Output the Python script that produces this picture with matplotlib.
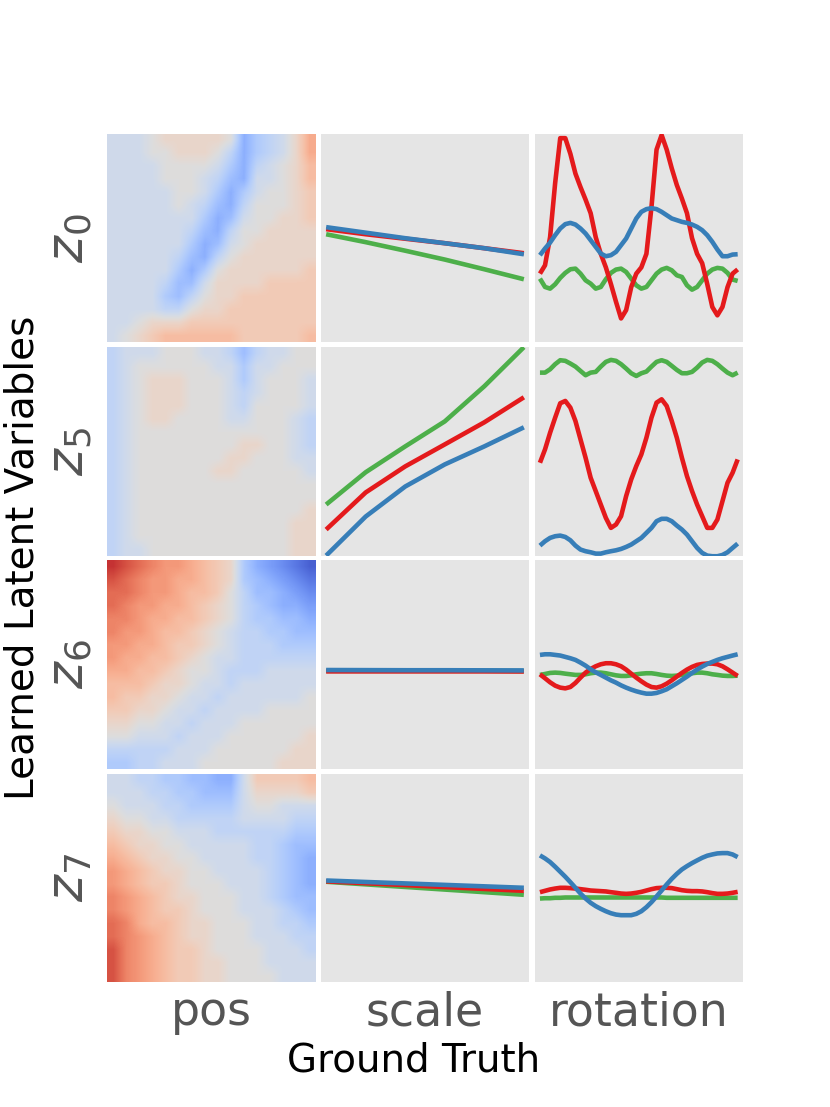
#!/usr/bin/python
#
# Latent traversal figure: each learned latent (row) against the ground truth
# factors pos / scale / rotation (columns) of the sprites dataset.

import numpy as np
import matplotlib
matplotlib.use('Agg')
import matplotlib.pyplot as plt

latent_names = ['$z_0$', '$z_5$', '$z_6$', '$z_7$']
factor_names = ['pos', 'scale', 'rotation']
shape_names  = ['square', 'ellipse', 'heart']
shape_colors = {'square': '#4daf4a', 'ellipse': '#e41a1c', 'heart': '#377eb8'}

scale_values    = [0.5, 0.6, 0.7, 0.8, 0.9, 1.0]
rotation_values = np.linspace(0.0, 2.0*np.pi, 40) # 40 orientations

# Mean latent over (pos y, pos x), 16x16 cells, -10 (blue) .. 10 (red)
pos_z0 = [
    [-1,-1,-1, 0, 1, 1, 1, 1, 1, 0,-5,-3,-2,-1, 1, 4],
    [-1,-1,-1, 0, 0, 1, 1, 1, 0,-2,-5,-3,-2,-1, 1, 4],
    [-1,-1,-1,-1, 0, 0, 0, 0,-1,-3,-5,-2,-1, 0, 1, 3],
    [-1,-1,-1,-1, 0, 0, 0,-1,-2,-4,-5,-1,-1, 0, 1, 3],
    [-1,-1,-1,-1,-1, 0, 0,-1,-3,-5,-3,-1, 0, 0, 1, 2],
    [-1,-1,-1,-1,-1, 0,-1,-2,-4,-5,-2, 0, 0, 0, 1, 2],
    [-1,-1,-1,-1,-1,-1,-1,-3,-5,-4,-1, 0, 0, 1, 1, 2],
    [-1,-1,-1,-1,-1,-1,-2,-4,-5,-2, 0, 0, 1, 1, 1, 1],
    [-1,-1,-1,-1,-1,-1,-3,-5,-4,-1, 0, 1, 1, 1, 1, 1],
    [-1,-1,-1,-1,-1,-2,-4,-5,-2, 0, 1, 1, 1, 1, 1, 1],
    [-1,-1,-1,-1,-1,-3,-5,-3, 0, 1, 1, 1, 1, 1, 1, 2],
    [-1,-1,-1,-1,-2,-4,-4,-1, 1, 1, 1, 1, 2, 2, 2, 2],
    [-1,-1,-1,-1,-3,-4,-2, 0, 1, 1, 2, 2, 2, 2, 2, 2],
    [-1,-1,-1,-1,-2,-2, 0, 1, 1, 2, 2, 2, 2, 2, 2, 2],
    [-1,-1, 0, 1, 1, 1, 2, 2, 2, 2, 2, 2, 2, 2, 2, 2],
    [-1, 0, 1, 2, 3, 3, 3, 3, 3, 3, 2, 2, 2, 2, 2, 3],
]
pos_z5 = [
    [-2,-1,-1,-1, 0, 0, 0,-1,-1,-2,-4,-2,-1,-1, 0, 0],
    [-2,-1, 0, 0, 0, 0, 0, 0,-1,-1,-3,-1,-1, 0, 0, 0],
    [-2,-1, 0, 1, 1, 1, 0, 0, 0,-1,-3,-1, 0, 0, 0,-1],
    [-2,-1, 0, 1, 1, 1, 0, 0, 0,-1,-2,-1, 0, 0, 0,-1],
    [-2,-1, 0, 1, 1, 1, 0, 0, 0,-1,-2, 0, 0, 0, 0,-1],
    [-2,-1, 0, 1, 1, 0, 0, 0, 0,-1,-1, 0, 0, 0,-1,-2],
    [-2,-1, 0, 0, 0, 0, 0, 0, 0, 0, 0, 0, 0, 0,-1,-2],
    [-2,-1, 0, 0, 0, 0, 0, 0, 0, 0, 1, 1, 0, 0,-1,-2],
    [-2,-1, 0, 0, 0, 0, 0, 0, 0, 1, 1, 0, 0, 0,-1,-1],
    [-2,-1, 0, 0, 0, 0, 0, 0, 1, 1, 0, 0, 0, 0, 0,-1],
    [-2,-1, 0, 0, 0, 0, 0, 0, 0, 0, 0, 0, 0, 0, 0, 0],
    [-2,-1, 0, 0, 0, 0, 0, 0, 0, 0, 0, 0, 0, 0, 0, 0],
    [-2,-1, 0, 0, 0, 0, 0, 0, 0, 0, 0, 0, 0, 0, 0, 1],
    [-2,-1, 0, 0, 0, 0, 0, 0, 0, 0, 0, 0, 0, 0, 1, 1],
    [-2,-1, 0, 0, 0, 0, 0, 0, 0, 0, 0, 0, 0, 0, 1, 1],
    [-2,-1,-1, 0, 0, 0, 0, 0, 0, 0, 0, 0, 0, 0, 1, 1],
]
pos_z6 = [
    [ 9, 8, 7, 6, 5, 5, 4, 3, 2, 1,-3,-5,-6,-7,-8,-9],
    [ 8, 7, 6, 5, 5, 4, 4, 3, 2, 1,-3,-4,-5,-6,-7,-8],
    [ 7, 7, 6, 5, 5, 4, 3, 3, 2, 0,-2,-4,-4,-5,-6,-7],
    [ 7, 6, 5, 5, 4, 4, 3, 2, 1, 0,-2,-3,-4,-5,-5,-6],
    [ 6, 6, 5, 4, 4, 3, 3, 2, 1, 0,-2,-3,-3,-4,-4,-5],
    [ 6, 5, 5, 4, 3, 3, 2, 1, 0,-1,-2,-2,-3,-3,-4,-4],
    [ 5, 5, 4, 4, 3, 2, 2, 1, 0,-1,-2,-2,-2,-3,-3,-3],
    [ 5, 4, 4, 3, 3, 2, 1, 0,-1,-1,-2,-2,-2,-2,-2,-2],
    [ 4, 4, 3, 3, 2, 1, 0, 0,-1,-2,-2,-2,-1,-1,-1,-1],
    [ 3, 3, 3, 2, 1, 1, 0,-1,-1,-2,-1,-1,-1,-1,-1,-1],
    [ 3, 2, 2, 1, 1, 0,-1,-1,-2,-1,-1,-1,-1,-1,-1, 0],
    [ 2, 2, 1, 1, 0,-1,-1,-2,-1,-1,-1,-1, 0, 0, 0, 0],
    [ 1, 1, 0, 0,-1,-1,-2,-1,-1,-1, 0, 0, 0, 0, 0, 0],
    [ 0, 0,-1,-1,-1,-2,-1,-1,-1, 0, 0, 0, 0, 0, 0, 1],
    [-2,-2,-2,-2,-2,-1,-1,-1, 0, 0, 0, 0, 0, 0, 1, 1],
    [-3,-3,-2,-2,-1,-1,-1, 0, 0, 0, 0, 0, 0, 1, 1, 1],
]
pos_z7 = [
    [-1,-1,-2,-2,-3,-3,-4,-4,-5,-5,-1, 2, 2, 2, 2, 3],
    [-1,-1,-1,-2,-2,-3,-3,-4,-4,-4,-1, 1, 1, 1, 1, 2],
    [ 0,-1,-1,-1,-2,-2,-3,-3,-3,-3,-1, 0, 0,-1,-1,-1],
    [ 1, 0, 0,-1,-1,-2,-2,-2,-2,-2,-1,-1,-1,-1,-2,-2],
    [ 2, 1, 1, 0, 0,-1,-1,-1,-2,-2,-2,-2,-2,-2,-3,-3],
    [ 3, 2, 1, 1, 0, 0,-1,-1,-1,-1,-1,-2,-2,-3,-4,-4],
    [ 4, 3, 2, 1, 1, 0, 0,-1,-1,-1,-1,-2,-2,-3,-4,-5],
    [ 5, 4, 3, 2, 1, 1, 0, 0,-1,-1,-1,-1,-2,-3,-4,-5],
    [ 5, 4, 3, 2, 2, 1, 0, 0, 0,-1,-1,-1,-2,-3,-4,-5],
    [ 6, 5, 4, 3, 2, 1, 1, 0, 0, 0,-1,-1,-2,-3,-4,-4],
    [ 6, 5, 4, 3, 2, 2, 1, 0, 0, 0,-1,-1,-1,-2,-3,-4],
    [ 7, 6, 4, 3, 3, 2, 1, 1, 0, 0, 0,-1,-1,-2,-2,-3],
    [ 7, 6, 5, 4, 3, 2, 1, 1, 0, 0, 0,-1,-1,-1,-2,-2],
    [ 8, 6, 5, 4, 3, 2, 2, 1, 0, 0, 0, 0,-1,-1,-1,-2],
    [ 8, 6, 5, 4, 3, 2, 2, 1, 1, 0, 0, 0,-1,-1,-1,-1],
    [ 8, 6, 5, 4, 3, 2, 2, 1, 1, 0, 0, 0, 0,-1,-1,-1],
]

# Mean latent against scale (one value per scale step)
scale_z0_square  = [0.038, -0.038, -0.120, -0.205, -0.298, -0.394]
scale_z0_ellipse = [0.087, 0.038, -0.005, -0.048, -0.096, -0.144]
scale_z0_heart   = [0.106, 0.053, 0.000, -0.048, -0.096, -0.154]
scale_z5_square  = [-0.51, -0.20, 0.048, 0.288, 0.625, 1.0]
scale_z5_ellipse = [-0.75, -0.394, -0.144, 0.067, 0.279, 0.519]
scale_z5_heart   = [-1.0, -0.625, -0.337, -0.125, 0.048, 0.231]
scale_z6_square  = [-0.060, -0.060, -0.060, -0.060, -0.060, -0.062]
scale_z6_ellipse = [-0.065, -0.065, -0.065, -0.065, -0.065, -0.066]
scale_z6_heart   = [-0.052, -0.053, -0.054, -0.054, -0.055, -0.056]
scale_z7_square  = [-0.038, -0.063, -0.088, -0.113, -0.138, -0.163]
scale_z7_ellipse = [-0.034, -0.052, -0.070, -0.089, -0.107, -0.125]
scale_z7_heart   = [-0.026, -0.040, -0.054, -0.068, -0.082, -0.096]

# Mean latent against rotation (40 orientations)
rot_z0_square = [-0.388, -0.468, -0.484, -0.442, -0.381, -0.333, -0.298, -0.292, -0.340, -0.404,
                 -0.436, -0.484, -0.468, -0.394, -0.333, -0.301, -0.292, -0.324, -0.388, -0.452,
                 -0.484, -0.468, -0.404, -0.340, -0.301, -0.285, -0.308, -0.356, -0.372, -0.452,
                 -0.494, -0.468, -0.404, -0.340, -0.301, -0.285, -0.292, -0.333, -0.397, -0.410]
rot_z0_ellipse = [-0.34, -0.26, 0.01, 0.53, 0.96, 0.96, 0.81, 0.62, 0.49, 0.37,
                  0.24, 0.01, -0.15, -0.28, -0.44, -0.61, -0.77, -0.69, -0.47, -0.34,
                  -0.28, -0.15, 0.30, 0.85, 0.99, 0.85, 0.67, 0.51, 0.38, 0.24,
                  0.00, -0.15, -0.24, -0.44, -0.66, -0.74, -0.66, -0.47, -0.34, -0.30]
rot_z0_heart = [-0.163, -0.099, -0.042, 0.029, 0.093, 0.135, 0.147, 0.131, 0.093, 0.045,
                -0.019, -0.083, -0.147, -0.173, -0.163, -0.131, -0.067, -0.003, 0.093, 0.189,
                0.253, 0.279, 0.288, 0.279, 0.253, 0.221, 0.189, 0.173, 0.157, 0.147,
                0.131, 0.109, 0.077, 0.029, -0.035, -0.109, -0.173, -0.173, -0.157, -0.154]
rot_z5_square = [0.756, 0.756, 0.788, 0.837, 0.875, 0.869, 0.843, 0.814, 0.772, 0.731,
                 0.756, 0.763, 0.814, 0.859, 0.878, 0.869, 0.837, 0.795, 0.750, 0.724,
                 0.750, 0.766, 0.814, 0.859, 0.875, 0.859, 0.821, 0.782, 0.750, 0.750,
                 0.763, 0.804, 0.853, 0.878, 0.869, 0.837, 0.795, 0.756, 0.731, 0.756]
rot_z5_ellipse = [-0.109, 0.019, 0.179, 0.324, 0.462, 0.484, 0.420, 0.292, 0.115, -0.061,
                  -0.253, -0.381, -0.510, -0.638, -0.734, -0.702, -0.622, -0.429, -0.269, -0.141,
                  -0.029, 0.131, 0.324, 0.468, 0.500, 0.436, 0.292, 0.131, -0.061, -0.237,
                  -0.381, -0.510, -0.622, -0.734, -0.734, -0.654, -0.478, -0.301, -0.205, -0.077]
rot_z5_heart = [-0.904, -0.862, -0.830, -0.814, -0.808, -0.821, -0.853, -0.904, -0.942, -0.958,
                -0.968, -0.981, -0.981, -0.968, -0.958, -0.949, -0.936, -0.917, -0.894, -0.862,
                -0.830, -0.782, -0.734, -0.670, -0.647, -0.647, -0.670, -0.712, -0.750, -0.798,
                -0.862, -0.926, -0.974, -1.000, -1.006, -1.006, -0.994, -0.968, -0.926, -0.885]
rot_z6_square = [-0.099, -0.090, -0.080, -0.077, -0.080, -0.087, -0.093, -0.099, -0.099, -0.093,
                 -0.083, -0.077, -0.077, -0.083, -0.093, -0.103, -0.109, -0.109, -0.103, -0.093,
                 -0.087, -0.083, -0.083, -0.090, -0.099, -0.106, -0.109, -0.106, -0.099, -0.090,
                 -0.083, -0.077, -0.077, -0.083, -0.093, -0.099, -0.106, -0.109, -0.109, -0.106]
rot_z6_ellipse = [-0.093, -0.131, -0.170, -0.202, -0.221, -0.228, -0.215, -0.176, -0.125, -0.077,
                  -0.042, -0.016, 0.003, 0.013, 0.013, 0.003, -0.016, -0.048, -0.087, -0.125,
                  -0.160, -0.192, -0.215, -0.221, -0.208, -0.183, -0.151, -0.115, -0.080, -0.048,
                  -0.022, -0.003, 0.006, 0.010, 0.010, 0.003, -0.016, -0.045, -0.077, -0.109]
rot_z6_heart = [0.093, 0.099, 0.099, 0.093, 0.087, 0.074, 0.061, 0.045, 0.019, -0.010,
                -0.045, -0.074, -0.099, -0.125, -0.151, -0.173, -0.199, -0.221, -0.240, -0.256,
                -0.269, -0.279, -0.279, -0.272, -0.256, -0.237, -0.208, -0.179, -0.147, -0.115,
                -0.080, -0.048, -0.019, 0.006, 0.026, 0.045, 0.061, 0.074, 0.087, 0.099]
rot_z7_square = [-0.199, -0.196, -0.196, -0.192, -0.192, -0.189, -0.189, -0.189, -0.189, -0.189,
                 -0.189, -0.189, -0.189, -0.189, -0.189, -0.189, -0.189, -0.189, -0.189, -0.189,
                 -0.189, -0.189, -0.189, -0.189, -0.189, -0.192, -0.192, -0.192, -0.192, -0.192,
                 -0.192, -0.192, -0.192, -0.192, -0.192, -0.192, -0.192, -0.192, -0.192, -0.192]
rot_z7_ellipse = [-0.138, -0.125, -0.112, -0.103, -0.096, -0.096, -0.099, -0.103, -0.109, -0.115,
                  -0.122, -0.125, -0.128, -0.131, -0.138, -0.144, -0.151, -0.154, -0.151, -0.144,
                  -0.135, -0.122, -0.109, -0.099, -0.096, -0.096, -0.099, -0.109, -0.119, -0.125,
                  -0.128, -0.128, -0.131, -0.138, -0.147, -0.154, -0.154, -0.151, -0.144, -0.135]
rot_z7_heart = [0.215, 0.186, 0.151, 0.106, 0.058, 0.010, -0.042, -0.096, -0.151, -0.199,
                -0.240, -0.272, -0.298, -0.321, -0.340, -0.353, -0.359, -0.359, -0.359, -0.346,
                -0.321, -0.282, -0.234, -0.179, -0.122, -0.064, -0.010, 0.038, 0.080, 0.112,
                0.141, 0.167, 0.192, 0.212, 0.224, 0.234, 0.237, 0.237, 0.224, 0.199]

pos_maps = [pos_z0, pos_z5, pos_z6, pos_z7]
scale_curves = [
    {'square': scale_z0_square, 'ellipse': scale_z0_ellipse, 'heart': scale_z0_heart},
    {'square': scale_z5_square, 'ellipse': scale_z5_ellipse, 'heart': scale_z5_heart},
    {'square': scale_z6_square, 'ellipse': scale_z6_ellipse, 'heart': scale_z6_heart},
    {'square': scale_z7_square, 'ellipse': scale_z7_ellipse, 'heart': scale_z7_heart},
]
rotation_curves = [
    {'square': rot_z0_square, 'ellipse': rot_z0_ellipse, 'heart': rot_z0_heart},
    {'square': rot_z5_square, 'ellipse': rot_z5_ellipse, 'heart': rot_z5_heart},
    {'square': rot_z6_square, 'ellipse': rot_z6_ellipse, 'heart': rot_z6_heart},
    {'square': rot_z7_square, 'ellipse': rot_z7_ellipse, 'heart': rot_z7_heart},
]

LABEL_GRAY = '#555555'
PANEL_BG   = '#e5e5e5'


def clean_axes(ax):
    ax.set_xticks([])
    ax.set_yticks([])
    for spine in ax.spines.values():
        spine.set_visible(False)
#END: clean_axes


def plot_curves(ax, x, curves):
    # draw order keeps the heart curve on top
    for shape in shape_names:
        ax.plot(x, curves[shape], color=shape_colors[shape], lw=3.3, solid_capstyle='butt')
    ax.set_facecolor(PANEL_BG)
    ax.set_ylim(-1.0, 1.0)
    ax.margins(x=0.027)
    clean_axes(ax)
#END: plot_curves


def main():
    fig, axes = plt.subplots(4, 3, figsize=(8.3, 11.07), dpi=100)
    plt.subplots_adjust(left=107/830., right=743/830., top=1-134/1107., bottom=1-982/1107.,
            wspace=0.026, hspace=0.023)

    for row in range(4):
        ax_pos, ax_scale, ax_rot = axes[row]

        ax_pos.imshow(np.array(pos_maps[row]), cmap='coolwarm', vmin=-10, vmax=10,
                interpolation='bilinear', aspect='auto')
        clean_axes(ax_pos)
        ax_pos.set_ylabel(latent_names[row], fontsize=37, color=LABEL_GRAY, labelpad=9)

        plot_curves(ax_scale, scale_values, scale_curves[row])
        plot_curves(ax_rot, rotation_values, rotation_curves[row])

    for col in range(3):
        axes[-1, col].set_xlabel(factor_names[col], fontsize=33, color=LABEL_GRAY, labelpad=6)

    fig.text(23/830., 1-558/1107., 'Learned Latent Variables', rotation=90, fontsize=28,
            ha='center', va='center')
    fig.text(414/830., 1-1061/1107., 'Ground Truth', fontsize=28, ha='center', va='center')

    fig.savefig('out.png', dpi=100)
#END: main

if(__name__ == '__main__'):
    main()
